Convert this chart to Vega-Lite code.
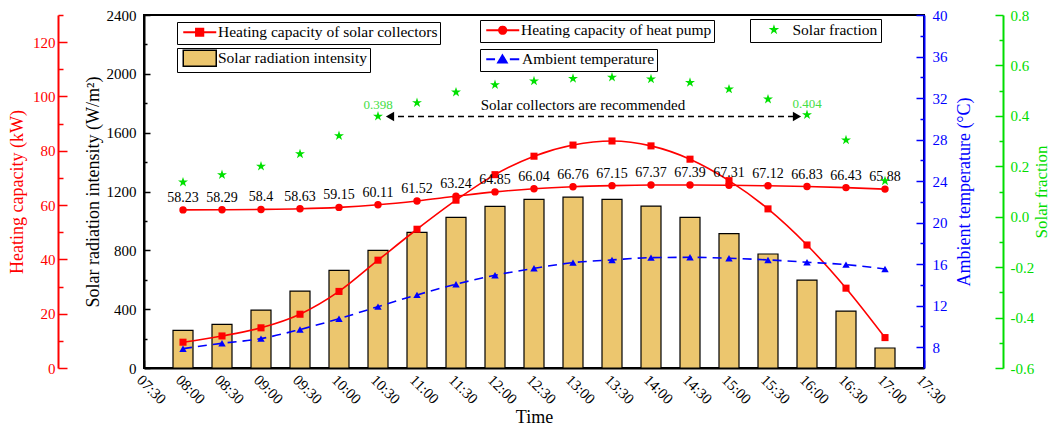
{
  "$schema": "https://vega.github.io/schema/vega-lite/v6.json",
  "width": 780,
  "height": 353,
  "autosize": {"type": "none"},
  "padding": {"left": 144, "top": 15, "right": 129, "bottom": 62},
  "background": "white",
  "config": {
    "view": {"stroke": "black", "strokeWidth": 2},
    "font": "Liberation Serif",
    "axis": {"labelFont": "Liberation Serif", "titleFont": "Liberation Serif", "labelFontSize": 15, "titleFontSize": 18, "titleFontWeight": "normal", "grid": false, "domainWidth": 2, "tickWidth": 1.5},
    "legend": {"labelFont": "Liberation Serif", "labelFontSize": 15.5, "labelColor": "black", "labelLimit": 400, "strokeColor": "black", "fillColor": "white", "padding": 2.5, "orient": "none"}
  },
  "datasets": {
    "main": [
      {"Time": "08:00", "Radiation": 256, "Collector": 9.5, "HeatPump": 58.23, "Ambient": 7.86, "Fraction": 0.137},
      {"Time": "08:30", "Radiation": 297, "Collector": 11.8, "HeatPump": 58.29, "Ambient": 8.38, "Fraction": 0.166},
      {"Time": "09:00", "Radiation": 394, "Collector": 14.8, "HeatPump": 58.4, "Ambient": 8.83, "Fraction": 0.2},
      {"Time": "09:30", "Radiation": 523, "Collector": 19.8, "HeatPump": 58.63, "Ambient": 9.71, "Fraction": 0.249},
      {"Time": "10:00", "Radiation": 664, "Collector": 28.2, "HeatPump": 59.15, "Ambient": 10.75, "Fraction": 0.321},
      {"Time": "10:30", "Radiation": 800, "Collector": 39.7, "HeatPump": 60.11, "Ambient": 11.91, "Fraction": 0.398},
      {"Time": "11:00", "Radiation": 922, "Collector": 51.1, "HeatPump": 61.52, "Ambient": 13.04, "Fraction": 0.452},
      {"Time": "11:30", "Radiation": 1024, "Collector": 61.8, "HeatPump": 63.24, "Ambient": 14.07, "Fraction": 0.494},
      {"Time": "12:00", "Radiation": 1099, "Collector": 71.2, "HeatPump": 64.85, "Ambient": 14.93, "Fraction": 0.523},
      {"Time": "12:30", "Radiation": 1147, "Collector": 78.0, "HeatPump": 66.04, "Ambient": 15.6, "Fraction": 0.538},
      {"Time": "13:00", "Radiation": 1162, "Collector": 82.1, "HeatPump": 66.76, "Ambient": 16.15, "Fraction": 0.548},
      {"Time": "13:30", "Radiation": 1147, "Collector": 83.6, "HeatPump": 67.15, "Ambient": 16.41, "Fraction": 0.553},
      {"Time": "14:00", "Radiation": 1101, "Collector": 81.8, "HeatPump": 67.37, "Ambient": 16.63, "Fraction": 0.546},
      {"Time": "14:30", "Radiation": 1024, "Collector": 76.9, "HeatPump": 67.39, "Ambient": 16.66, "Fraction": 0.532},
      {"Time": "15:00", "Radiation": 913, "Collector": 69.0, "HeatPump": 67.31, "Ambient": 16.57, "Fraction": 0.506},
      {"Time": "15:30", "Radiation": 775, "Collector": 58.6, "HeatPump": 67.12, "Ambient": 16.41, "Fraction": 0.466},
      {"Time": "16:00", "Radiation": 598, "Collector": 45.3, "HeatPump": 66.83, "Ambient": 16.19, "Fraction": 0.404},
      {"Time": "16:30", "Radiation": 387, "Collector": 29.4, "HeatPump": 66.43, "Ambient": 15.96, "Fraction": 0.304},
      {"Time": "17:00", "Radiation": 136, "Collector": 11.2, "HeatPump": 65.88, "Ambient": 15.54, "Fraction": 0.142}
    ],
    "annot": [
      {"Time": "10:30", "to": "16:00", "at": "13:00", "y": 0.397, "text": "Solar collectors are recommended"}
    ]
  },
  "data": {"name": "main"},
  "encoding": {
    "x": {
      "field": "Time", "type": "ordinal",
      "scale": {"type": "point", "padding": 0, "domain": ["07:30","08:00","08:30","09:00","09:30","10:00","10:30","11:00","11:30","12:00","12:30","13:00","13:30","14:00","14:30","15:00","15:30","16:00","16:30","17:00","17:30"]},
      "axis": {"title": "Time", "labelAngle": 45, "labelAlign": "left", "labelBaseline": "top", "tickSize": -8, "labelPadding": 12, "domainColor": "black", "tickColor": "black", "labelColor": "black", "titleColor": "black", "titlePadding": 2}
    }
  },
  "layer": [
    {
      "mark": {"type": "bar", "width": 20, "stroke": "black", "strokeWidth": 1.2},
      "encoding": {
        "y": {"field": "Radiation", "type": "quantitative", "scale": {"domain": [0, 2400], "nice": false},
          "axis": {"orient": "left", "offset": 0, "title": "Solar radiation intensity (W/m²)", "values": [0,200,400,600,800,1000,1200,1400,1600,1800,2000,2200,2400], "format": "d", "labelExpr": "datum.value % 400 == 0 ? datum.label : ''", "tickSize": {"condition": {"test": "datum.value % 400 == 0", "value": -6}, "value": -3}, "labelPadding": 14, "domainColor": "black", "tickColor": "black", "labelColor": "black", "titleColor": "black", "titlePadding": 4}},
        "color": {"datum": "Solar radiation intensity", "scale": {"range": ["#ECC66E"]},
          "legend": {"title": null, "legendX": 33, "legendY": 33, "symbolType": "M-1,-2H7.25V2H-1Z", "symbolSize": 64, "labelOffset": 23,
            "encode": {"symbols": {"update": {"fill": {"value": "#ECC66E"}, "stroke": {"value": "black"}, "strokeWidth": {"value": 1.5}, "shape": {"value": "M-1,-2H7.25V2H-1Z"}, "size": {"value": 64}}}}}}
      }
    },
    {
      "layer": [
        {
          "mark": {"type": "line", "interpolate": "monotone", "strokeWidth": 1.6, "point": {"shape": "square", "size": 50, "filled": true}},
          "encoding": {
            "y": {"field": "Collector", "type": "quantitative", "scale": {"domain": [0, 130], "nice": false, "zero": false},
              "axis": {"orient": "left", "offset": 86, "title": "Heating capacity (kW)", "values": [0,10,20,30,40,50,60,70,80,90,100,110,120,130], "labelExpr": "datum.value % 20 == 0 ? datum.label : ''", "tickSize": {"condition": {"test": "datum.value % 20 == 0", "value": -9}, "value": -5}, "labelPadding": 12, "domainColor": "#FF0000", "tickColor": "#FF0000", "labelColor": "#FF0000", "titleColor": "#FF0000", "titlePadding": 6}},
            "color": {"datum": "Heating capacity of solar collectors", "scale": {"range": ["#FF0000"]},
              "legend": {"title": null, "legendX": 33, "legendY": 7, "symbolType": "M-1,0H7.25M2.2,-0.9H4V0.9H2.2Z", "symbolSize": 64, "labelOffset": 23,
                "encode": {"symbols": {"update": {"fill": {"value": "#FF0000"}, "stroke": {"value": "#FF0000"}, "strokeWidth": {"value": 2}, "shape": {"value": "M-1,0H7.25M2.2,-0.9H4V0.9H2.2Z"}, "size": {"value": 64}, "strokeDash": {"value": [1, 0]}}}}}}
          }
        },
        {
          "mark": {"type": "line", "interpolate": "monotone", "strokeWidth": 1.6, "point": {"shape": "circle", "size": 55, "filled": true}},
          "encoding": {
            "y": {"field": "HeatPump", "type": "quantitative",
              "axis": {"orient": "left", "offset": 86, "title": "Heating capacity (kW)", "values": [0,10,20,30,40,50,60,70,80,90,100,110,120,130], "labelExpr": "datum.value % 20 == 0 ? datum.label : ''", "tickSize": {"condition": {"test": "datum.value % 20 == 0", "value": -9}, "value": -5}, "labelPadding": 12, "domainColor": "#FF0000", "tickColor": "#FF0000", "labelColor": "#FF0000", "titleColor": "#FF0000", "titlePadding": 6}},
            "color": {"datum": "Heating capacity of heat pump", "scale": {"range": ["#FF0000"]},
              "legend": {"title": null, "legendX": 336, "legendY": 5, "symbolType": "M-1,0H7.25M4,0A0.9,0.9 0 1,1 2.2,0A0.9,0.9 0 1,1 4,0Z", "symbolSize": 64, "labelOffset": 23,
                "encode": {"symbols": {"update": {"fill": {"value": "#FF0000"}, "stroke": {"value": "#FF0000"}, "strokeWidth": {"value": 2}, "shape": {"value": "M-1,0H7.25M4,0A0.9,0.9 0 1,1 2.2,0A0.9,0.9 0 1,1 4,0Z"}, "size": {"value": 64}, "strokeDash": {"value": [1, 0]}}}}}}
          }
        },
        {
          "mark": {"type": "text", "dy": -12, "fontSize": 14, "font": "Liberation Serif", "color": "black"},
          "encoding": {
            "y": {"field": "HeatPump", "type": "quantitative",
              "axis": {"orient": "left", "offset": 86, "title": "Heating capacity (kW)", "values": [0,10,20,30,40,50,60,70,80,90,100,110,120,130], "labelExpr": "datum.value % 20 == 0 ? datum.label : ''", "tickSize": {"condition": {"test": "datum.value % 20 == 0", "value": -9}, "value": -5}, "labelPadding": 12, "domainColor": "#FF0000", "tickColor": "#FF0000", "labelColor": "#FF0000", "titleColor": "#FF0000", "titlePadding": 6}},
            "text": {"field": "HeatPump", "type": "quantitative"}
          }
        }
      ],
      "resolve": {"scale": {"color": "independent"}, "legend": {"color": "independent"}}
    },
    {
      "mark": {"type": "line", "interpolate": "monotone", "strokeWidth": 1.6, "strokeDash": [9, 6], "point": {"shape": "triangle-up", "size": 55, "filled": true}},
      "encoding": {
        "y": {"field": "Ambient", "type": "quantitative", "scale": {"domain": [6, 40], "nice": false, "zero": false},
          "axis": {"orient": "right", "offset": 0, "title": "Ambient temperature (°C)", "titleAngle": 270, "titleBaseline": "top", "values": [8,10,12,14,16,18,20,22,24,26,28,30,32,34,36,38,40], "labelExpr": "datum.value % 4 == 0 ? datum.label : ''", "tickSize": {"condition": {"test": "datum.value % 4 == 0", "value": -8}, "value": -4}, "labelPadding": 16, "domainColor": "#0000FF", "tickColor": "#0000FF", "labelColor": "#0000FF", "titleColor": "#0000FF", "titlePadding": 8}},
        "color": {"datum": "Ambient temperature", "scale": {"range": ["#0000FF"]},
          "legend": {"title": null, "legendX": 336, "legendY": 34, "symbolType": "M-1,0H1.2M4.9,0H7.25M2,0.8L3.05,-0.95L4.1,0.8Z", "symbolSize": 64, "labelOffset": 24,
            "encode": {"symbols": {"update": {"fill": {"value": "#0000FF"}, "stroke": {"value": "#0000FF"}, "strokeWidth": {"value": 2}, "shape": {"value": "M-1,0H1.2M4.9,0H7.25M2,0.8L3.05,-0.95L4.1,0.8Z"}, "size": {"value": 64}, "strokeDash": {"value": [1, 0]}}}}}}
      }
    },
    {
      "layer": [
        {
          "mark": {"type": "point", "filled": true, "opacity": 1, "size": 110, "shape": "M0,-1L0.225,-0.309L0.951,-0.309L0.363,0.118L0.588,0.809L0,0.382L-0.588,0.809L-0.363,0.118L-0.951,-0.309L-0.225,-0.309Z"},
          "encoding": {
            "y": {"field": "Fraction", "type": "quantitative", "scale": {"domain": [-0.6, 0.8], "nice": false, "zero": false},
              "axis": {"orient": "right", "offset": 79, "title": "Solar fraction", "titleAngle": 270, "titleBaseline": "top", "titleFontSize": 17, "values": [-0.6,-0.5,-0.4,-0.3,-0.2,-0.1,0,0.1,0.2,0.3,0.4,0.5,0.6,0.7,0.8], "format": ".1f", "labelExpr": "round(datum.value * 10) % 2 == 0 ? replace(datum.label, '−', '-') : ''", "tickSize": {"condition": {"test": "round(datum.value * 10) % 2 == 0", "value": -8}, "value": -4}, "labelPadding": 15, "domainColor": "#00DD00", "tickColor": "#00DD00", "labelColor": "#00DD00", "titleColor": "#00DD00", "titlePadding": 0}},
            "color": {"datum": "Solar fraction", "scale": {"range": ["#00E000"]},
              "legend": {"title": null, "legendX": 606, "legendY": 4, "symbolSize": 121, "labelOffset": 24, "padding": 3,
                "symbolType": "M2.4,-1L2.625,-0.309L3.351,-0.309L2.763,0.118L2.988,0.809L2.4,0.382L1.812,0.809L2.037,0.118L1.449,-0.309L2.175,-0.309Z",
                "encode": {"symbols": {"update": {"fill": {"value": "#00E000"}, "stroke": {"value": "#00E000"}, "strokeWidth": {"value": 0}, "shape": {"value": "M2.4,-1L2.625,-0.309L3.351,-0.309L2.763,0.118L2.988,0.809L2.4,0.382L1.812,0.809L2.037,0.118L1.449,-0.309L2.175,-0.309Z"}, "size": {"value": 121}}}}}}
          }
        },
        {
          "transform": [{"filter": "datum.Time == '10:30' || datum.Time == '16:00'"}],
          "mark": {"type": "text", "dy": -11, "fontSize": 13, "font": "Liberation Serif", "color": "#44DD44"},
          "encoding": {
            "y": {"field": "Fraction", "type": "quantitative",
              "axis": {"orient": "right", "offset": 79, "title": "Solar fraction", "titleAngle": 270, "titleBaseline": "top", "titleFontSize": 17, "values": [-0.6,-0.5,-0.4,-0.3,-0.2,-0.1,0,0.1,0.2,0.3,0.4,0.5,0.6,0.7,0.8], "format": ".1f", "labelExpr": "round(datum.value * 10) % 2 == 0 ? replace(datum.label, '−', '-') : ''", "tickSize": {"condition": {"test": "round(datum.value * 10) % 2 == 0", "value": -8}, "value": -4}, "labelPadding": 15, "domainColor": "#00DD00", "tickColor": "#00DD00", "labelColor": "#00DD00", "titleColor": "#00DD00", "titlePadding": 0}},
            "text": {"field": "Fraction", "type": "quantitative", "format": ".3f"}
          }
        },
        {
          "data": {"name": "annot"},
          "mark": {"type": "rule", "color": "black", "strokeWidth": 1.5, "strokeDash": [6, 4], "xOffset": 10, "x2Offset": -9},
          "encoding": {
            "x": {"field": "Time", "type": "ordinal"},
            "x2": {"field": "to"},
            "y": {"field": "y", "type": "quantitative",
              "axis": {"orient": "right", "offset": 79, "title": "Solar fraction", "titleAngle": 270, "titleBaseline": "top", "titleFontSize": 17, "values": [-0.6,-0.5,-0.4,-0.3,-0.2,-0.1,0,0.1,0.2,0.3,0.4,0.5,0.6,0.7,0.8], "format": ".1f", "labelExpr": "round(datum.value * 10) % 2 == 0 ? replace(datum.label, '−', '-') : ''", "tickSize": {"condition": {"test": "round(datum.value * 10) % 2 == 0", "value": -8}, "value": -4}, "labelPadding": 15, "domainColor": "#00DD00", "tickColor": "#00DD00", "labelColor": "#00DD00", "titleColor": "#00DD00", "titlePadding": 0}}
          }
        },
        {
          "data": {"name": "annot"},
          "mark": {"type": "point", "shape": "triangle-left", "filled": true, "color": "black", "opacity": 1, "size": 90, "xOffset": 12},
          "encoding": {
            "x": {"field": "Time", "type": "ordinal"},
            "y": {"field": "y", "type": "quantitative",
              "axis": {"orient": "right", "offset": 79, "title": "Solar fraction", "titleAngle": 270, "titleBaseline": "top", "titleFontSize": 17, "values": [-0.6,-0.5,-0.4,-0.3,-0.2,-0.1,0,0.1,0.2,0.3,0.4,0.5,0.6,0.7,0.8], "format": ".1f", "labelExpr": "round(datum.value * 10) % 2 == 0 ? replace(datum.label, '−', '-') : ''", "tickSize": {"condition": {"test": "round(datum.value * 10) % 2 == 0", "value": -8}, "value": -4}, "labelPadding": 15, "domainColor": "#00DD00", "tickColor": "#00DD00", "labelColor": "#00DD00", "titleColor": "#00DD00", "titlePadding": 0}}
          }
        },
        {
          "data": {"name": "annot"},
          "mark": {"type": "point", "shape": "triangle-right", "filled": true, "color": "black", "opacity": 1, "size": 90, "xOffset": -10},
          "encoding": {
            "x": {"field": "to", "type": "ordinal"},
            "y": {"field": "y", "type": "quantitative",
              "axis": {"orient": "right", "offset": 79, "title": "Solar fraction", "titleAngle": 270, "titleBaseline": "top", "titleFontSize": 17, "values": [-0.6,-0.5,-0.4,-0.3,-0.2,-0.1,0,0.1,0.2,0.3,0.4,0.5,0.6,0.7,0.8], "format": ".1f", "labelExpr": "round(datum.value * 10) % 2 == 0 ? replace(datum.label, '−', '-') : ''", "tickSize": {"condition": {"test": "round(datum.value * 10) % 2 == 0", "value": -8}, "value": -4}, "labelPadding": 15, "domainColor": "#00DD00", "tickColor": "#00DD00", "labelColor": "#00DD00", "titleColor": "#00DD00", "titlePadding": 0}}
          }
        },
        {
          "data": {"name": "annot"},
          "mark": {"type": "text", "fontSize": 15, "font": "Liberation Serif", "color": "black", "dx": 10, "dy": -12},
          "encoding": {
            "x": {"field": "at", "type": "ordinal"},
            "y": {"field": "y", "type": "quantitative",
              "axis": {"orient": "right", "offset": 79, "title": "Solar fraction", "titleAngle": 270, "titleBaseline": "top", "titleFontSize": 17, "values": [-0.6,-0.5,-0.4,-0.3,-0.2,-0.1,0,0.1,0.2,0.3,0.4,0.5,0.6,0.7,0.8], "format": ".1f", "labelExpr": "round(datum.value * 10) % 2 == 0 ? replace(datum.label, '−', '-') : ''", "tickSize": {"condition": {"test": "round(datum.value * 10) % 2 == 0", "value": -8}, "value": -4}, "labelPadding": 15, "domainColor": "#00DD00", "tickColor": "#00DD00", "labelColor": "#00DD00", "titleColor": "#00DD00", "titlePadding": 0}},
            "text": {"field": "text"}
          }
        }
      ],
      "resolve": {"scale": {"color": "independent"}, "legend": {"color": "independent"}}
    }
  ],
  "resolve": {"scale": {"y": "independent", "color": "independent"}, "axis": {"y": "independent"}, "legend": {"color": "independent"}}
}
